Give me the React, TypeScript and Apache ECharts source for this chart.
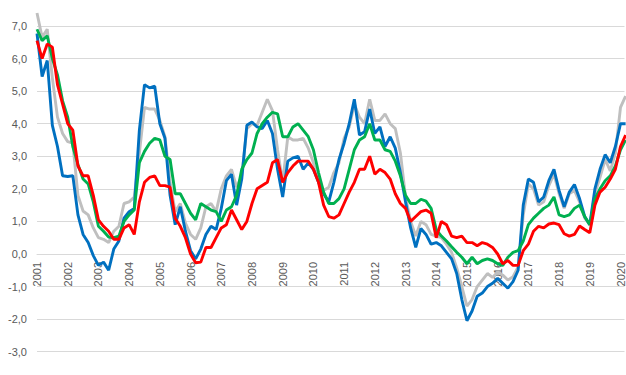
import React, { useEffect, useRef } from "react";
import * as echarts from "echarts";

// Observations every 2 months starting January 2001
const startYear = 2001;
const monthStep = 2;

const cpiBlue = [
  6.77, 5.45, 5.94, 3.95, 3.3, 2.4,
  2.38, 2.4, 1.2, 0.6, 0.35, -0.05,
  -0.35, -0.25, -0.5, 0.15, 0.4, 1.1,
  1.3, 1.4, 3.8, 5.2, 5.1, 5.15,
  4.0, 3.55, 1.8, 0.9, 1.45, 0.7,
  0.1, -0.15, 0.15, 0.6, 0.85, 0.75,
  1.4, 2.25, 2.45, 1.5, 2.3, 3.95,
  4.05, 3.9, 3.85, 4.1, 3.7, 2.6,
  1.75, 2.85, 2.95, 3.0, 2.6, 2.8,
  2.6, 2.2, 1.85, 1.6, 2.2, 2.9,
  3.4, 4.0, 4.75, 3.65, 3.75, 4.45,
  3.7, 3.9, 3.3, 3.6, 3.25, 2.5,
  1.6, 0.8, 0.2, 0.78, 0.6, 0.3,
  0.35, 0.25, 0.05, -0.15, -0.6, -1.4,
  -2.05, -1.75, -1.3, -1.2, -1.0, -0.9,
  -0.75, -0.9, -1.05, -0.85, -0.5, 1.5,
  2.3, 2.2, 1.6, 1.75, 2.25, 2.6,
  1.95, 1.45, 1.9, 2.13, 1.7, 1.15,
  0.9, 2.0, 2.6, 3.05, 2.8, 3.3,
  4.0, 4.0,
];

const grayValues = [
  7.4, 6.65, 6.9, 5.4, 4.2, 3.7,
  3.45, 3.4, 1.8, 1.32, 1.2, 0.8,
  0.5, 0.45, 0.35, 0.7, 0.85, 1.55,
  1.6, 1.75, 3.1, 4.5, 4.45, 4.45,
  4.1, 3.6, 2.2, 1.3, 1.55, 0.95,
  0.6, 0.45, 0.8, 1.45, 1.55, 1.3,
  2.0, 2.4, 2.6, 2.05, 2.4, 3.85,
  4.0, 3.95, 4.35, 4.75, 4.4, 3.2,
  2.2, 3.6, 3.5, 3.5, 3.55, 3.25,
  2.8, 2.25, 1.95, 2.05, 2.5, 2.8,
  3.55, 3.9, 4.6, 4.2, 4.0, 4.75,
  4.1, 4.1, 4.3, 4.0, 3.85, 3.1,
  1.75, 1.0, 0.55, 1.0, 0.9, 0.6,
  0.55, 0.5, 0.3, 0.05, -0.43, -1.0,
  -1.6, -1.4, -1.0, -0.8, -0.6, -0.72,
  -0.55, -0.65, -0.8, -0.7, -0.4, 1.2,
  2.15, 2.0, 1.5, 1.6, 2.1, 2.45,
  1.85, 1.4, 1.85, 1.95, 1.6, 1.1,
  0.9, 1.85, 2.35, 2.9, 2.55, 3.1,
  4.5, 4.85,
];

const greenValues = [
  6.9, 6.55, 6.7, 6.0, 5.5, 4.7,
  4.2, 3.3, 2.75, 2.3, 2.15, 1.6,
  0.85, 0.7, 0.52, 0.5, 0.55, 1.0,
  1.2, 1.35, 2.8, 3.15, 3.4, 3.55,
  3.5, 3.0, 2.9, 1.85, 1.85, 1.55,
  1.25, 1.05, 1.55, 1.45, 1.35, 1.3,
  1.0, 1.35, 1.45, 1.8, 2.6, 2.9,
  3.1, 3.7, 4.0, 4.2, 4.35, 4.3,
  3.6, 3.6, 3.9, 4.0, 3.8, 3.6,
  3.2, 2.5, 1.9, 1.55, 1.55, 1.7,
  2.0, 2.6, 3.2, 3.5, 3.6, 4.0,
  3.5, 3.5, 3.2, 3.15, 2.85, 2.4,
  1.8, 1.55, 1.55, 1.68, 1.62, 1.4,
  0.75, 0.55, 0.4, 0.22, 0.05, -0.1,
  -0.3, -0.1, -0.3, -0.2, -0.15, -0.2,
  -0.3, -0.35, -0.1, 0.05, 0.1, 0.4,
  0.9, 1.1, 1.25, 1.4, 1.5, 1.75,
  1.2, 1.15, 1.2, 1.4, 1.5, 1.15,
  0.9, 1.7, 2.0, 2.25, 2.4, 2.7,
  3.2, 3.5,
];

const redValues = [
  6.55, 6.0, 6.45, 6.35, 5.2, 4.6,
  4.0, 3.8, 2.7, 2.4, 2.4, 1.8,
  1.05, 0.85, 0.7, 0.45, 0.45, 0.8,
  0.9, 0.6, 1.6, 2.2, 2.35, 2.4,
  2.1, 2.1, 2.05, 1.1, 0.85, 0.5,
  0.0, -0.27, -0.25, 0.2, 0.2, 0.5,
  0.8, 0.9, 1.35, 1.05, 0.75, 1.0,
  1.55, 2.0, 2.1, 2.2, 2.8, 2.9,
  2.2, 2.5, 2.7, 2.85, 2.85, 2.85,
  2.6, 2.2, 1.5, 1.15, 1.1, 1.2,
  1.55, 1.9, 2.2, 2.6, 2.6, 3.0,
  2.45, 2.6, 2.5, 2.3, 1.85, 1.55,
  1.4, 1.0, 1.15, 1.3, 1.35, 1.25,
  0.5, 1.0, 0.9, 0.55, 0.5, 0.55,
  0.35, 0.35, 0.25, 0.35, 0.3, 0.2,
  0.0, -0.3, -0.2, -0.35, -0.35, 0.1,
  0.3, 0.7, 0.85, 0.8, 0.92, 0.95,
  0.9, 0.62, 0.55, 0.6, 0.86, 0.75,
  0.65, 1.5, 1.9, 2.05, 2.3, 2.6,
  3.3, 3.65,
];

const seriesNames = [
  "CPI-AT",
  "CPI",
  "CPIXE",
  "CPI adjusted for tax changes and excluding energy",
];

export default function App() {
  const ref = useRef<HTMLDivElement>(null);

  useEffect(() => {
    document.body.style.margin = "0";
    const chart = echarts.init(ref.current!, null, { renderer: "svg" });
    const dates = cpiBlue.map((_, i) => startYear + (i * monthStep) / 12);
    const pairs = (vals: number[]) => dates.map((d, i) => [d, vals[i]]);
    const font = "Liberation Sans";
    const yMin = -3;
    const yMax = 8;
    const gridTop = 0.4;
    const gridBottom = 23.3;
    const height = 382;
    const unit = (height - gridTop - gridBottom) / (yMax - yMin);
    const mkLine = (name: string, vals: number[], color: string, z: number) => ({
      name,
      type: "line",
      data: pairs(vals),
      showSymbol: false,
      symbol: "none",
      z,
      lineStyle: { width: 2.9, color },
      itemStyle: { color },
      emphasis: { disabled: true },
    });
    const legendBase = {
      top: 375,
      itemWidth: 28,
      itemHeight: 3,
      icon: "rect",
      textStyle: { color: "#595959", fontSize: 11, fontFamily: font },
    };

    chart.setOption({
      animation: false,
      grid: { left: 37, right: 0, top: gridTop, bottom: gridBottom },
      legend: [
        { ...legendBase, data: [seriesNames[1]], left: 85 },
        { ...legendBase, data: [seriesNames[3]], left: 345 },
      ],
      xAxis: {
        type: "value",
        position: "bottom",
        min: 2001,
        max: 2020.13,
        interval: 1,
        offset: yMin * unit,
        axisLine: { onZero: false, lineStyle: { color: "#d9d9d9", width: 1 } },
        axisTick: { show: false },
        splitLine: { show: false },
        axisLabel: {
          rotate: 90,
          color: "#595959",
          fontSize: 11,
          fontFamily: font,
          margin: 8,
          showMaxLabel: false,
          formatter: (v: number) => (Number.isInteger(v) ? String(v) : ""),
        },
      },
      yAxis: {
        type: "value",
        min: yMin,
        max: yMax,
        interval: 1,
        axisLine: { show: false, onZero: false },
        axisTick: { show: false },
        splitLine: { lineStyle: { color: "#d9d9d9", width: 1 } },
        axisLabel: {
          color: "#595959",
          fontSize: 11,
          fontFamily: font,
          margin: 10,
          showMaxLabel: false,
          formatter: (v: number) => v.toFixed(1).replace(".", ","),
        },
      },
      series: [
        mkLine(seriesNames[0], grayValues, "#bfbfbf", 1),
        mkLine(seriesNames[1], cpiBlue, "#0070c0", 2),
        mkLine(seriesNames[2], greenValues, "#00b050", 3),
        mkLine(seriesNames[3], redValues, "#ff0000", 4),
      ],
    });
    return () => chart.dispose();
  }, []);

  return <div ref={ref} style={{ width: 626, height: 382, marginTop: -7 }} />;
}
